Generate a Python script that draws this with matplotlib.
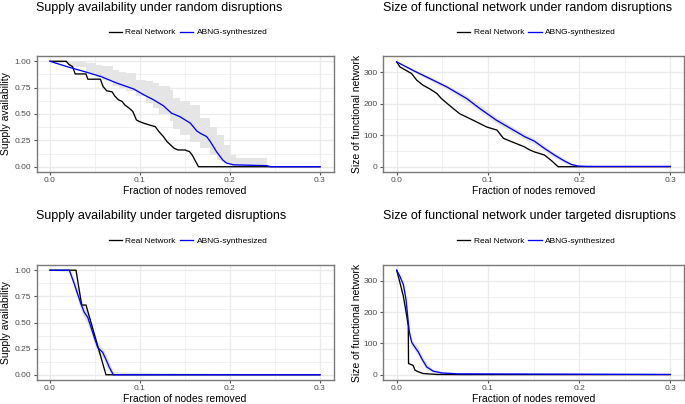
import matplotlib
matplotlib.use("Agg")
import matplotlib.pyplot as plt

plt.rcParams['font.family'] = ['Liberation Sans', 'DejaVu Sans']

# ---- data ----
# supply availability, random disruptions
sr_real_x = [0, 0.018, 0.021, 0.025, 0.028, 0.040, 0.042, 0.056, 0.059, 0.063, 0.069, 0.072,
             0.076, 0.080, 0.083, 0.088, 0.092, 0.096, 0.099, 0.104, 0.110, 0.117, 0.121,
             0.126, 0.130, 0.134, 0.138, 0.142, 0.150, 0.155, 0.158, 0.161, 0.165, 0.30]
sr_real_y = [1.0, 1.0, 0.97, 0.95, 0.88, 0.88, 0.83, 0.83, 0.76, 0.72, 0.71, 0.67,
             0.635, 0.62, 0.587, 0.555, 0.524, 0.444, 0.43, 0.413, 0.397, 0.38, 0.333,
             0.286, 0.238, 0.206, 0.175, 0.159, 0.159, 0.143, 0.111, 0.063, 0.0, 0.0]
sr_abng_x = [0, 0.0185, 0.037, 0.056, 0.074, 0.093, 0.104, 0.115, 0.126, 0.135, 0.144,
             0.156, 0.163, 0.167, 0.174, 0.178, 0.185, 0.192, 0.196, 0.204, 0.241, 0.245, 0.30]
sr_abng_y = [1.0, 0.95, 0.905, 0.857, 0.794, 0.737, 0.683, 0.635, 0.578, 0.508, 0.476,
             0.413, 0.34, 0.317, 0.286, 0.24, 0.143, 0.063, 0.035, 0.018, 0.01, 0.0, 0.0]
sr_band_x = [0, 0.007, 0.021, 0.04, 0.051, 0.058, 0.07, 0.077, 0.084, 0.096, 0.107, 0.114,
             0.121, 0.133, 0.137, 0.144, 0.156, 0.167, 0.178, 0.185, 0.193, 0.20, 0.207,
             0.24, 0.2415]
sr_band_lo = [1.0, 0.985, 0.943, 0.889, 0.85, 0.826, 0.77, 0.746, 0.72, 0.667, 0.60, 0.556,
              0.50, 0.43, 0.36, 0.30, 0.238, 0.175, 0.111, 0.063, 0.032, 0.0, 0.0, 0.0, 0.0]
sr_band_hi = [1.0, 1.0, 1.0, 0.985, 0.968, 0.955, 0.92, 0.90, 0.889, 0.826, 0.81, 0.79,
              0.762, 0.73, 0.65, 0.62, 0.587, 0.46, 0.38, 0.30, 0.206, 0.111, 0.08, 0.08, 0.0]

# size of functional network, random disruptions
nr_real_x = [0, 0.0036, 0.0164, 0.022, 0.029, 0.036, 0.044, 0.049, 0.060, 0.069, 0.084,
             0.0986, 0.11, 0.117, 0.128, 0.14, 0.146, 0.151, 0.162, 0.169, 0.177, 0.30]
nr_real_y = [332, 316, 295, 274, 258, 247, 232, 216, 189, 168, 147, 126, 116, 90, 77, 63,
             53, 47, 37, 21, 0, 0]
nr_abng_x = [0, 0.018, 0.0365, 0.0548, 0.0767, 0.0913, 0.109, 0.128, 0.1405, 0.151, 0.162,
             0.173, 0.184, 0.1917, 0.199, 0.21, 0.30]
nr_abng_y = [332, 305, 279, 253, 216, 184, 148, 116, 95, 81, 58, 37, 18, 7, 2, 1, 1]
nr_band_hi = [333, 310, 285, 260, 226, 195, 158, 126, 104, 89, 66, 45, 25, 12, 5, 2, 1]
nr_band_lo = [331, 300, 273, 246, 206, 175, 138, 107, 86, 72, 50, 29, 11, 2, 0, 0, 0]

# supply availability, targeted disruptions
st_real_x = [0, 0.0289, 0.0352, 0.040, 0.0622, 0.30]
st_real_y = [1.0, 1.0, 0.667, 0.667, 0.0, 0.0]
st_abng_x = [0, 0.0215, 0.027, 0.0307, 0.0344, 0.0381, 0.0419, 0.0456, 0.0492, 0.053,
             0.0585, 0.062, 0.066, 0.0704, 0.30]
st_abng_y = [1.0, 1.0, 0.869, 0.773, 0.677, 0.597, 0.55, 0.453, 0.357, 0.262, 0.214, 0.15,
             0.07, 0.0, 0.0]
st_band_hi = [1.0, 1.0, 0.92, 0.83, 0.73, 0.65, 0.60, 0.51, 0.41, 0.31, 0.26, 0.20, 0.12, 0.03, 0.0]
st_band_lo = [1.0, 0.98, 0.82, 0.72, 0.62, 0.54, 0.49, 0.40, 0.30, 0.21, 0.16, 0.09, 0.02, 0.0, 0.0]

# size of functional network, targeted disruptions
nt_real_x = [0, 0.0036, 0.0073, 0.011, 0.0127, 0.0130, 0.018, 0.020, 0.0237, 0.029, 0.044,
             0.07, 0.30]
nt_real_y = [334, 294, 251, 188, 156, 36, 30, 15, 9.5, 4, 1, 0.5, 0.5]
nt_abng_x = [0, 0.0036, 0.0073, 0.0102, 0.0127, 0.0139, 0.0164, 0.02, 0.0237, 0.0274,
             0.0329, 0.040, 0.0493, 0.066, 0.30]
nt_abng_y = [334, 314, 288, 241, 167, 136, 104, 88, 73, 52, 25, 11.5, 6, 3, 1]
nt_band_hi = [334, 318, 295, 252, 185, 150, 118, 100, 86, 65, 36, 18, 9, 4, 1]
nt_band_lo = [333, 308, 280, 228, 150, 122, 92, 76, 60, 40, 16, 6, 3, 1, 0]

x_ticks = [0, 0.1, 0.2, 0.3]
x_labels = ['0.0', '0.1', '0.2', '0.3']
supply_ticks = [0, 0.25, 0.5, 0.75, 1.0]
supply_labels = ['0.00', '0.25', '0.50', '0.75', '1.00']
size_ticks = [0, 100, 200, 300]
size_labels = ['0', '100', '200', '300']

W, H = 685, 404
fig = plt.figure(figsize=(W / 100, H / 100), dpi=100)


def px_axes(x0, y0, x1, y1):
    return fig.add_axes([x0 / W, 1 - y1 / H, (x1 - x0) / W, (y1 - y0) / H])


def style(ax, yticks, ylabels, ylim, yminor, ylabel, ylab_x):
    ax.set_xlim(-0.015, 0.315)
    ax.set_ylim(*ylim)
    ax.set_xticks(x_ticks)
    ax.set_xticklabels(x_labels)
    ax.set_yticks(yticks)
    ax.set_yticklabels(ylabels)
    ax.set_xticks([0.05, 0.15, 0.25], minor=True)
    ax.set_yticks(yminor, minor=True)
    ax.grid(which='major', color='#ebebeb', lw=0.95)
    ax.grid(which='minor', color='#ebebeb', lw=0.5)
    ax.set_axisbelow(True)
    ax.tick_params(which='major', length=2.3, width=0.8, color='#555555',
                   labelsize=6, labelcolor='#4d4d4d', pad=1.5)
    ax.tick_params(which='minor', length=0)
    for sp in ax.spines.values():
        sp.set_color('#7a7a7a')
        sp.set_linewidth(1.0)
    ax.set_xlabel('Fraction of nodes removed', fontsize=7.5)
    ax.xaxis.set_label_coords(0.5, -0.125)
    ax.set_ylabel(ylabel, fontsize=7.5)
    ax.yaxis.set_label_coords(ylab_x, 0.5)


def draw(ax, rx, ry, bx, by, lo, hi, band_x=None, step=None):
    if band_x is None:
        band_x = bx
    ax.fill_between(band_x, lo, hi, color='#e5e5e5', lw=0, step=step)
    ax.plot(rx, ry, color='black', lw=0.95, label='Real Network')
    ax.plot(bx, by, color='blue', lw=0.95, label='ABNG-synthesized')


panels = [
    # (box, title, title baseline, legend centre)
    ((36.5, 56, 333.5, 172), 'Supply availability under random disruptions', 11.5, (188, 32.5)),
    ((383, 56, 684, 172), 'Size of functional network under random disruptions', 11.5, (536.5, 32.5)),
    ((36.5, 265, 333.5, 380), 'Supply availability under targeted disruptions', 219, (188, 241)),
    ((383, 265, 684, 380), 'Size of functional network under targeted disruptions', 219, (536.5, 241)),
]

axes = []
for box, title, ty, lc in panels:
    ax = px_axes(*box)
    axes.append(ax)
    fig.text(box[0] / W, 1 - ty / H, title, fontsize=9, ha='left', va='baseline')

ax1, ax2, ax3, ax4 = axes
draw(ax1, sr_real_x, sr_real_y, sr_abng_x, sr_abng_y, sr_band_lo, sr_band_hi,
     band_x=sr_band_x, step='post')
draw(ax2, nr_real_x, nr_real_y, nr_abng_x, nr_abng_y, nr_band_lo, nr_band_hi)
draw(ax3, st_real_x, st_real_y, st_abng_x, st_abng_y, st_band_lo, st_band_hi)
draw(ax4, nt_real_x, nt_real_y, nt_abng_x, nt_abng_y, nt_band_lo, nt_band_hi)

supply_lim = (-0.05, 1.05)
size_lim = (-16.7, 350.7)
style(ax1, supply_ticks, supply_labels, supply_lim, [0.125, 0.375, 0.625, 0.875],
      'Supply availability', -0.086)
style(ax2, size_ticks, size_labels, size_lim, [50, 150, 250],
      'Size of functional network', -0.07)
style(ax3, supply_ticks, supply_labels, supply_lim, [0.125, 0.375, 0.625, 0.875],
      'Supply availability', -0.086)
style(ax4, size_ticks, size_labels, size_lim, [50, 150, 250],
      'Size of functional network', -0.07)

for ax, (box, title, ty, lc) in zip(axes, panels):
    h, l = ax.get_legend_handles_labels()
    fig.legend(h, l, loc='center', bbox_to_anchor=(lc[0] / W, 1 - lc[1] / H),
               ncol=2, frameon=False, fontsize=6, handlelength=1.6,
               handletextpad=0.4, columnspacing=0.5, borderpad=0)

fig.savefig('out.png', dpi=100)
